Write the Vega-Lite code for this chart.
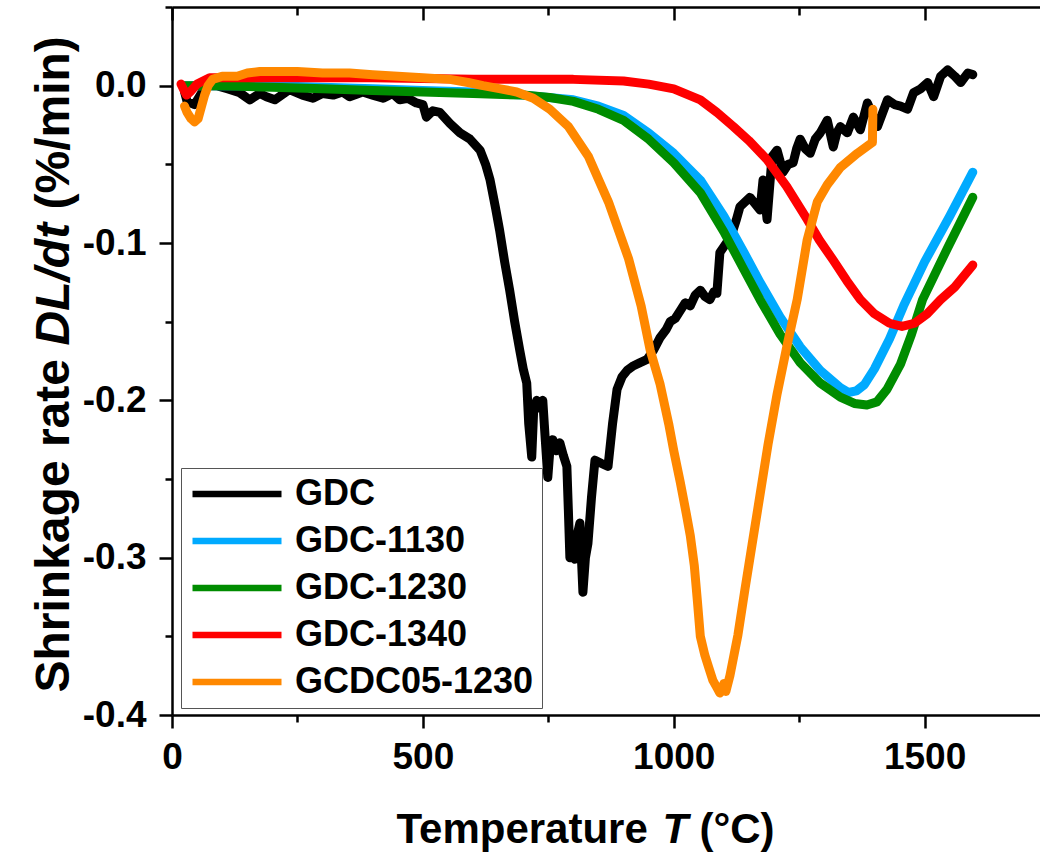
{
"$schema": "https://vega.github.io/schema/vega-lite/v6.json",
"width": 868, "height": 708,
"autosize": {"type": "none"},
"padding": {"left": 172, "top": 7, "right": 0, "bottom": 138},
"background": "white",
"config": {"view": {"stroke": null}, "font": "Liberation Sans"},
"datasets": {
"frame": [{"T": 0, "v": 0}],
"curves": [
{"s":"GDC","T":25,"v":-0.004},{"s":"GDC","T":30,"v":-0.010},{"s":"GDC","T":45,"v":-0.012},{"s":"GDC","T":60,"v":-0.004},{"s":"GDC","T":75,"v":0.000},{"s":"GDC","T":89,"v":0.000},{"s":"GDC","T":110,"v":-0.002},{"s":"GDC","T":135,"v":-0.0045},{"s":"GDC","T":155,"v":-0.009},{"s":"GDC","T":175,"v":-0.005},{"s":"GDC","T":188,"v":-0.007},{"s":"GDC","T":205,"v":-0.009},{"s":"GDC","T":234,"v":-0.0025},{"s":"GDC","T":260,"v":-0.006},{"s":"GDC","T":281,"v":-0.008},{"s":"GDC","T":300,"v":-0.005},{"s":"GDC","T":321,"v":-0.006},{"s":"GDC","T":340,"v":-0.004},{"s":"GDC","T":354,"v":-0.007},{"s":"GDC","T":380,"v":-0.004},{"s":"GDC","T":400,"v":-0.006},{"s":"GDC","T":421,"v":-0.008},{"s":"GDC","T":440,"v":-0.005},{"s":"GDC","T":454,"v":-0.009},{"s":"GDC","T":470,"v":-0.008},{"s":"GDC","T":487,"v":-0.011},{"s":"GDC","T":500,"v":-0.012},{"s":"GDC","T":507,"v":-0.020},{"s":"GDC","T":520,"v":-0.016},{"s":"GDC","T":534,"v":-0.017},{"s":"GDC","T":554,"v":-0.024},{"s":"GDC","T":574,"v":-0.030},{"s":"GDC","T":594,"v":-0.034},{"s":"GDC","T":614,"v":-0.041},{"s":"GDC","T":625,"v":-0.050},{"s":"GDC","T":634,"v":-0.060},{"s":"GDC","T":645,"v":-0.078},{"s":"GDC","T":653,"v":-0.092},{"s":"GDC","T":663,"v":-0.112},{"s":"GDC","T":673,"v":-0.130},{"s":"GDC","T":683,"v":-0.150},{"s":"GDC","T":693,"v":-0.168},{"s":"GDC","T":700,"v":-0.180},{"s":"GDC","T":707,"v":-0.189},{"s":"GDC","T":711,"v":-0.215},{"s":"GDC","T":717,"v":-0.236},{"s":"GDC","T":721,"v":-0.205},{"s":"GDC","T":727,"v":-0.200},{"s":"GDC","T":733,"v":-0.205},{"s":"GDC","T":739,"v":-0.200},{"s":"GDC","T":744,"v":-0.225},{"s":"GDC","T":749,"v":-0.249},{"s":"GDC","T":754,"v":-0.228},{"s":"GDC","T":759,"v":-0.225},{"s":"GDC","T":766,"v":-0.232},{"s":"GDC","T":773,"v":-0.227},{"s":"GDC","T":780,"v":-0.235},{"s":"GDC","T":787,"v":-0.242},{"s":"GDC","T":790,"v":-0.270},{"s":"GDC","T":793,"v":-0.300},{"s":"GDC","T":798,"v":-0.295},{"s":"GDC","T":803,"v":-0.301},{"s":"GDC","T":808,"v":-0.285},{"s":"GDC","T":813,"v":-0.278},{"s":"GDC","T":816,"v":-0.300},{"s":"GDC","T":819,"v":-0.322},{"s":"GDC","T":824,"v":-0.300},{"s":"GDC","T":829,"v":-0.291},{"s":"GDC","T":836,"v":-0.262},{"s":"GDC","T":843,"v":-0.238},{"s":"GDC","T":855,"v":-0.240},{"s":"GDC","T":869,"v":-0.242},{"s":"GDC","T":878,"v":-0.215},{"s":"GDC","T":887,"v":-0.193},{"s":"GDC","T":897,"v":-0.185},{"s":"GDC","T":907,"v":-0.181},{"s":"GDC","T":920,"v":-0.178},{"s":"GDC","T":933,"v":-0.176},{"s":"GDC","T":947,"v":-0.174},{"s":"GDC","T":960,"v":-0.168},{"s":"GDC","T":973,"v":-0.160},{"s":"GDC","T":985,"v":-0.155},{"s":"GDC","T":993,"v":-0.150},{"s":"GDC","T":1003,"v":-0.148},{"s":"GDC","T":1013,"v":-0.143},{"s":"GDC","T":1023,"v":-0.138},{"s":"GDC","T":1033,"v":-0.140},{"s":"GDC","T":1043,"v":-0.133},{"s":"GDC","T":1053,"v":-0.130},{"s":"GDC","T":1062,"v":-0.134},{"s":"GDC","T":1072,"v":-0.136},{"s":"GDC","T":1080,"v":-0.131},{"s":"GDC","T":1086,"v":-0.132},{"s":"GDC","T":1092,"v":-0.106},{"s":"GDC","T":1105,"v":-0.100},{"s":"GDC","T":1118,"v":-0.092},{"s":"GDC","T":1125,"v":-0.085},{"s":"GDC","T":1132,"v":-0.077},{"s":"GDC","T":1142,"v":-0.074},{"s":"GDC","T":1152,"v":-0.071},{"s":"GDC","T":1162,"v":-0.075},{"s":"GDC","T":1172,"v":-0.079},{"s":"GDC","T":1178,"v":-0.060},{"s":"GDC","T":1186,"v":-0.085},{"s":"GDC","T":1196,"v":-0.045},{"s":"GDC","T":1206,"v":-0.041},{"s":"GDC","T":1218,"v":-0.055},{"s":"GDC","T":1228,"v":-0.050},{"s":"GDC","T":1238,"v":-0.049},{"s":"GDC","T":1245,"v":-0.040},{"s":"GDC","T":1252,"v":-0.034},{"s":"GDC","T":1262,"v":-0.040},{"s":"GDC","T":1272,"v":-0.043},{"s":"GDC","T":1282,"v":-0.034},{"s":"GDC","T":1292,"v":-0.030},{"s":"GDC","T":1306,"v":-0.022},{"s":"GDC","T":1318,"v":-0.039},{"s":"GDC","T":1325,"v":-0.030},{"s":"GDC","T":1332,"v":-0.026},{"s":"GDC","T":1346,"v":-0.030},{"s":"GDC","T":1358,"v":-0.020},{"s":"GDC","T":1372,"v":-0.028},{"s":"GDC","T":1386,"v":-0.011},{"s":"GDC","T":1406,"v":-0.026},{"s":"GDC","T":1426,"v":-0.009},{"s":"GDC","T":1440,"v":-0.012},{"s":"GDC","T":1452,"v":-0.013},{"s":"GDC","T":1466,"v":-0.015},{"s":"GDC","T":1478,"v":-0.0045},{"s":"GDC","T":1492,"v":-0.002},{"s":"GDC","T":1506,"v":0.002},{"s":"GDC","T":1518,"v":-0.007},{"s":"GDC","T":1532,"v":0.006},{"s":"GDC","T":1546,"v":0.010},{"s":"GDC","T":1560,"v":0.006},{"s":"GDC","T":1572,"v":0.002},{"s":"GDC","T":1586,"v":0.008},{"s":"GDC","T":1596,"v":0.007},
{"s":"GDC-1130","T":25,"v":0.000},{"s":"GDC-1130","T":100,"v":0.000},{"s":"GDC-1130","T":200,"v":0.000},{"s":"GDC-1130","T":300,"v":-0.001},{"s":"GDC-1130","T":400,"v":-0.002},{"s":"GDC-1130","T":500,"v":-0.003},{"s":"GDC-1130","T":600,"v":-0.004},{"s":"GDC-1130","T":700,"v":-0.006},{"s":"GDC-1130","T":800,"v":-0.009},{"s":"GDC-1130","T":850,"v":-0.013},{"s":"GDC-1130","T":900,"v":-0.019},{"s":"GDC-1130","T":950,"v":-0.030},{"s":"GDC-1130","T":1000,"v":-0.043},{"s":"GDC-1130","T":1053,"v":-0.060},{"s":"GDC-1130","T":1100,"v":-0.083},{"s":"GDC-1130","T":1140,"v":-0.106},{"s":"GDC-1130","T":1172,"v":-0.125},{"s":"GDC-1130","T":1212,"v":-0.147},{"s":"GDC-1130","T":1252,"v":-0.166},{"s":"GDC-1130","T":1292,"v":-0.181},{"s":"GDC-1130","T":1332,"v":-0.192},{"s":"GDC-1130","T":1348,"v":-0.195},{"s":"GDC-1130","T":1364,"v":-0.194},{"s":"GDC-1130","T":1380,"v":-0.190},{"s":"GDC-1130","T":1400,"v":-0.180},{"s":"GDC-1130","T":1430,"v":-0.161},{"s":"GDC-1130","T":1458,"v":-0.140},{"s":"GDC-1130","T":1500,"v":-0.112},{"s":"GDC-1130","T":1550,"v":-0.083},{"s":"GDC-1130","T":1596,"v":-0.055},
{"s":"GDC-1230","T":25,"v":0.000},{"s":"GDC-1230","T":100,"v":0.000},{"s":"GDC-1230","T":200,"v":-0.001},{"s":"GDC-1230","T":300,"v":-0.002},{"s":"GDC-1230","T":400,"v":-0.003},{"s":"GDC-1230","T":500,"v":-0.004},{"s":"GDC-1230","T":600,"v":-0.005},{"s":"GDC-1230","T":700,"v":-0.006},{"s":"GDC-1230","T":753,"v":-0.0075},{"s":"GDC-1230","T":800,"v":-0.010},{"s":"GDC-1230","T":850,"v":-0.015},{"s":"GDC-1230","T":900,"v":-0.022},{"s":"GDC-1230","T":950,"v":-0.034},{"s":"GDC-1230","T":1000,"v":-0.049},{"s":"GDC-1230","T":1053,"v":-0.068},{"s":"GDC-1230","T":1100,"v":-0.093},{"s":"GDC-1230","T":1140,"v":-0.117},{"s":"GDC-1230","T":1172,"v":-0.136},{"s":"GDC-1230","T":1212,"v":-0.158},{"s":"GDC-1230","T":1252,"v":-0.176},{"s":"GDC-1230","T":1292,"v":-0.189},{"s":"GDC-1230","T":1332,"v":-0.198},{"s":"GDC-1230","T":1360,"v":-0.202},{"s":"GDC-1230","T":1385,"v":-0.203},{"s":"GDC-1230","T":1405,"v":-0.201},{"s":"GDC-1230","T":1425,"v":-0.193},{"s":"GDC-1230","T":1452,"v":-0.177},{"s":"GDC-1230","T":1474,"v":-0.158},{"s":"GDC-1230","T":1496,"v":-0.136},{"s":"GDC-1230","T":1546,"v":-0.103},{"s":"GDC-1230","T":1596,"v":-0.071},
{"s":"GDC-1340","T":18,"v":0.001},{"s":"GDC-1340","T":24,"v":-0.003},{"s":"GDC-1340","T":29,"v":-0.006},{"s":"GDC-1340","T":36,"v":-0.004},{"s":"GDC-1340","T":50,"v":0.001},{"s":"GDC-1340","T":75,"v":0.005},{"s":"GDC-1340","T":100,"v":0.005},{"s":"GDC-1340","T":200,"v":0.005},{"s":"GDC-1340","T":300,"v":0.005},{"s":"GDC-1340","T":400,"v":0.005},{"s":"GDC-1340","T":500,"v":0.0045},{"s":"GDC-1340","T":600,"v":0.004},{"s":"GDC-1340","T":700,"v":0.004},{"s":"GDC-1340","T":800,"v":0.004},{"s":"GDC-1340","T":900,"v":0.003},{"s":"GDC-1340","T":950,"v":0.001},{"s":"GDC-1340","T":1000,"v":-0.002},{"s":"GDC-1340","T":1053,"v":-0.009},{"s":"GDC-1340","T":1086,"v":-0.017},{"s":"GDC-1340","T":1119,"v":-0.026},{"s":"GDC-1340","T":1150,"v":-0.035},{"s":"GDC-1340","T":1186,"v":-0.047},{"s":"GDC-1340","T":1225,"v":-0.064},{"s":"GDC-1340","T":1266,"v":-0.085},{"s":"GDC-1340","T":1290,"v":-0.098},{"s":"GDC-1340","T":1318,"v":-0.111},{"s":"GDC-1340","T":1345,"v":-0.124},{"s":"GDC-1340","T":1372,"v":-0.136},{"s":"GDC-1340","T":1400,"v":-0.145},{"s":"GDC-1340","T":1430,"v":-0.151},{"s":"GDC-1340","T":1455,"v":-0.153},{"s":"GDC-1340","T":1480,"v":-0.151},{"s":"GDC-1340","T":1505,"v":-0.145},{"s":"GDC-1340","T":1532,"v":-0.136},{"s":"GDC-1340","T":1560,"v":-0.128},{"s":"GDC-1340","T":1596,"v":-0.114},
{"s":"GCDC05-1230","T":25,"v":-0.013},{"s":"GCDC05-1230","T":30,"v":-0.017},{"s":"GCDC05-1230","T":38,"v":-0.021},{"s":"GCDC05-1230","T":45,"v":-0.023},{"s":"GCDC05-1230","T":52,"v":-0.021},{"s":"GCDC05-1230","T":58,"v":-0.014},{"s":"GCDC05-1230","T":65,"v":-0.006},{"s":"GCDC05-1230","T":72,"v":0.000},{"s":"GCDC05-1230","T":81,"v":0.004},{"s":"GCDC05-1230","T":100,"v":0.006},{"s":"GCDC05-1230","T":130,"v":0.006},{"s":"GCDC05-1230","T":150,"v":0.008},{"s":"GCDC05-1230","T":175,"v":0.009},{"s":"GCDC05-1230","T":200,"v":0.009},{"s":"GCDC05-1230","T":250,"v":0.009},{"s":"GCDC05-1230","T":300,"v":0.008},{"s":"GCDC05-1230","T":354,"v":0.008},{"s":"GCDC05-1230","T":400,"v":0.007},{"s":"GCDC05-1230","T":450,"v":0.006},{"s":"GCDC05-1230","T":500,"v":0.005},{"s":"GCDC05-1230","T":554,"v":0.004},{"s":"GCDC05-1230","T":590,"v":0.002},{"s":"GCDC05-1230","T":620,"v":0.000},{"s":"GCDC05-1230","T":655,"v":-0.002},{"s":"GCDC05-1230","T":687,"v":-0.004},{"s":"GCDC05-1230","T":720,"v":-0.008},{"s":"GCDC05-1230","T":753,"v":-0.015},{"s":"GCDC05-1230","T":790,"v":-0.026},{"s":"GCDC05-1230","T":830,"v":-0.045},{"s":"GCDC05-1230","T":870,"v":-0.074},{"s":"GCDC05-1230","T":910,"v":-0.110},{"s":"GCDC05-1230","T":935,"v":-0.140},{"s":"GCDC05-1230","T":953,"v":-0.168},{"s":"GCDC05-1230","T":973,"v":-0.190},{"s":"GCDC05-1230","T":990,"v":-0.215},{"s":"GCDC05-1230","T":1000,"v":-0.232},{"s":"GCDC05-1230","T":1013,"v":-0.252},{"s":"GCDC05-1230","T":1025,"v":-0.272},{"s":"GCDC05-1230","T":1033,"v":-0.286},{"s":"GCDC05-1230","T":1041,"v":-0.305},{"s":"GCDC05-1230","T":1047,"v":-0.327},{"s":"GCDC05-1230","T":1053,"v":-0.350},{"s":"GCDC05-1230","T":1062,"v":-0.362},{"s":"GCDC05-1230","T":1070,"v":-0.370},{"s":"GCDC05-1230","T":1078,"v":-0.378},{"s":"GCDC05-1230","T":1085,"v":-0.382},{"s":"GCDC05-1230","T":1092,"v":-0.386},{"s":"GCDC05-1230","T":1096,"v":-0.384},{"s":"GCDC05-1230","T":1100,"v":-0.380},{"s":"GCDC05-1230","T":1104,"v":-0.385},{"s":"GCDC05-1230","T":1112,"v":-0.375},{"s":"GCDC05-1230","T":1128,"v":-0.349},{"s":"GCDC05-1230","T":1142,"v":-0.320},{"s":"GCDC05-1230","T":1156,"v":-0.292},{"s":"GCDC05-1230","T":1172,"v":-0.260},{"s":"GCDC05-1230","T":1188,"v":-0.228},{"s":"GCDC05-1230","T":1206,"v":-0.196},{"s":"GCDC05-1230","T":1226,"v":-0.165},{"s":"GCDC05-1230","T":1246,"v":-0.136},{"s":"GCDC05-1230","T":1266,"v":-0.098},{"s":"GCDC05-1230","T":1286,"v":-0.074},{"s":"GCDC05-1230","T":1306,"v":-0.063},{"s":"GCDC05-1230","T":1332,"v":-0.052},{"s":"GCDC05-1230","T":1366,"v":-0.043},{"s":"GCDC05-1230","T":1396,"v":-0.036},{"s":"GCDC05-1230","T":1397,"v":-0.015}
]},
"layer": [
{
"data": {"name": "curves"},
"mark": {"type": "line", "strokeWidth": 9, "strokeCap": "round", "strokeJoin": "round", "clip": true},
"encoding": {
"x": {"field": "T", "type": "quantitative", "scale": {"domain": [0, 1730], "nice": false, "zero": false},
 "axis": {"orient": "bottom", "values": [0,250,500,750,1000,1250,1500], "format": "d",
  "labelExpr": "datum.value % 500 === 0 ? datum.label : ''",
  "labelFontSize": 37, "labelFontWeight": "bold", "labelColor": "black", "labelPadding": 11, "labelFlush": false, "labelOverlap": false,
  "tickSize": {"condition": {"test": "datum.value % 500 === 0", "value": 13}, "value": 7},
  "tickWidth": 2.5, "tickColor": "black", "domainColor": "black", "domainWidth": 2.5, "grid": false,
  "title": "Temperature", "titleFont": "Liberation Sans", "titleFontSize": 42, "titleFontWeight": "bold", "titleColor": "black",
  "titleX": 224, "titleY": 127, "titleBaseline": "alphabetic", "titleAlign": "left"}},
"y": {"field": "v", "type": "quantitative", "scale": {"domain": [-0.4, 0.05], "nice": false, "zero": false},
 "axis": {"orient": "left", "values": [-0.4,-0.35,-0.3,-0.25,-0.2,-0.15,-0.1,-0.05,0,0.05],
  "labelExpr": "abs(round(datum.value*10) - datum.value*10) < 0.01 ? (datum.value < -0.001 ? '-' : '') + format(abs(datum.value), '.1f') : ''",
  "labelFontSize": 37, "labelFontWeight": "bold", "labelColor": "black", "labelPadding": 13, "labelFlush": false, "labelOverlap": false,
  "tickSize": {"condition": {"test": "abs(round(datum.value*10) - datum.value*10) < 0.01", "value": 13}, "value": 7},
  "tickWidth": 2.5, "tickColor": "black", "domainColor": "black", "domainWidth": 2.5, "grid": false,
  "title": "Shrinkage rate", "titleFont": "Liberation Sans", "titleFontSize": 48, "titleFontWeight": "bold", "titleColor": "black",
  "titleAngle": 270, "titleX": -104, "titleY": 685, "titleBaseline": "alphabetic", "titleAlign": "left"}},
"color": {"field": "s", "type": "nominal",
 "scale": {"domain": ["GDC","GDC-1130","GDC-1230","GDC-1340","GCDC05-1230"], "range": ["#000000","#00AAFF","#008C00","#FF0000","#FF8800"]},
 "legend": {"title": null, "orient": "none", "legendX": 9, "legendY": 461, "direction": "vertical",
  "symbolType": "stroke", "symbolSize": 7921, "symbolStrokeWidth": 6.5,
  "labelFont": "Liberation Sans", "labelFontSize": 36, "labelFontWeight": "bold", "labelColor": "black", "labelOffset": 10, "labelLimit": 400,
  "strokeColor": "#555555", "fillColor": "white", "padding": 8, "rowPadding": 11, "clipHeight": 36}}
}
},
{
"data": {"name": "frame"},
"mark": {"type": "point", "opacity": 0},
"encoding": {
"x": {"field": "T", "type": "quantitative", "scale": {"domain": [0, 1730], "nice": false, "zero": false},
 "axis": {"orient": "top", "values": [0,250,500,750,1000,1250,1500], "labels": false, "grid": false,
  "tickSize": {"condition": {"test": "datum.value % 500 === 0", "value": -13}, "value": -8},
  "tickWidth": 2.5, "tickColor": "black", "domainColor": "black", "domainWidth": 2.5,
  "title": "T", "titleFont": "Liberation Sans", "titleFontSize": 42, "titleFontWeight": "bold", "titleFontStyle": "italic", "titleColor": "black",
  "titleX": 490, "titleY": 835, "titleBaseline": "alphabetic", "titleAlign": "left"}},
"y": {"field": "v", "type": "quantitative", "scale": {"domain": [-0.4, 0.05], "nice": false, "zero": false},
 "axis": {"orient": "left", "domain": false, "ticks": false, "labels": false, "grid": false,
  "title": "DL/dt", "titleFont": "Liberation Sans", "titleFontSize": 48, "titleFontWeight": "bold", "titleFontStyle": "italic", "titleColor": "black",
  "titleAngle": 270, "titleX": -104, "titleY": 338, "titleBaseline": "alphabetic", "titleAlign": "left"}}
}
},
{
"data": {"name": "frame"},
"mark": {"type": "point", "opacity": 0},
"encoding": {
"x": {"field": "T", "type": "quantitative", "scale": {"domain": [0, 1730], "nice": false, "zero": false},
 "axis": {"orient": "bottom", "domain": false, "ticks": false, "labels": false, "grid": false,
  "title": "(°C)", "titleFont": "Liberation Sans", "titleFontSize": 42, "titleFontWeight": "bold", "titleColor": "black",
  "titleX": 527, "titleY": 127, "titleBaseline": "alphabetic", "titleAlign": "left"}},
"y": {"field": "v", "type": "quantitative", "scale": {"domain": [-0.4, 0.05], "nice": false, "zero": false},
 "axis": {"orient": "left", "domain": false, "ticks": false, "labels": false, "grid": false,
  "title": "(%/min)", "titleFont": "Liberation Sans", "titleFontSize": 48, "titleFontWeight": "bold", "titleColor": "black",
  "titleAngle": 270, "titleX": -104, "titleY": 202, "titleBaseline": "alphabetic", "titleAlign": "left"}}
}
}
],
"resolve": {"axis": {"x": "independent", "y": "independent"}}
}
